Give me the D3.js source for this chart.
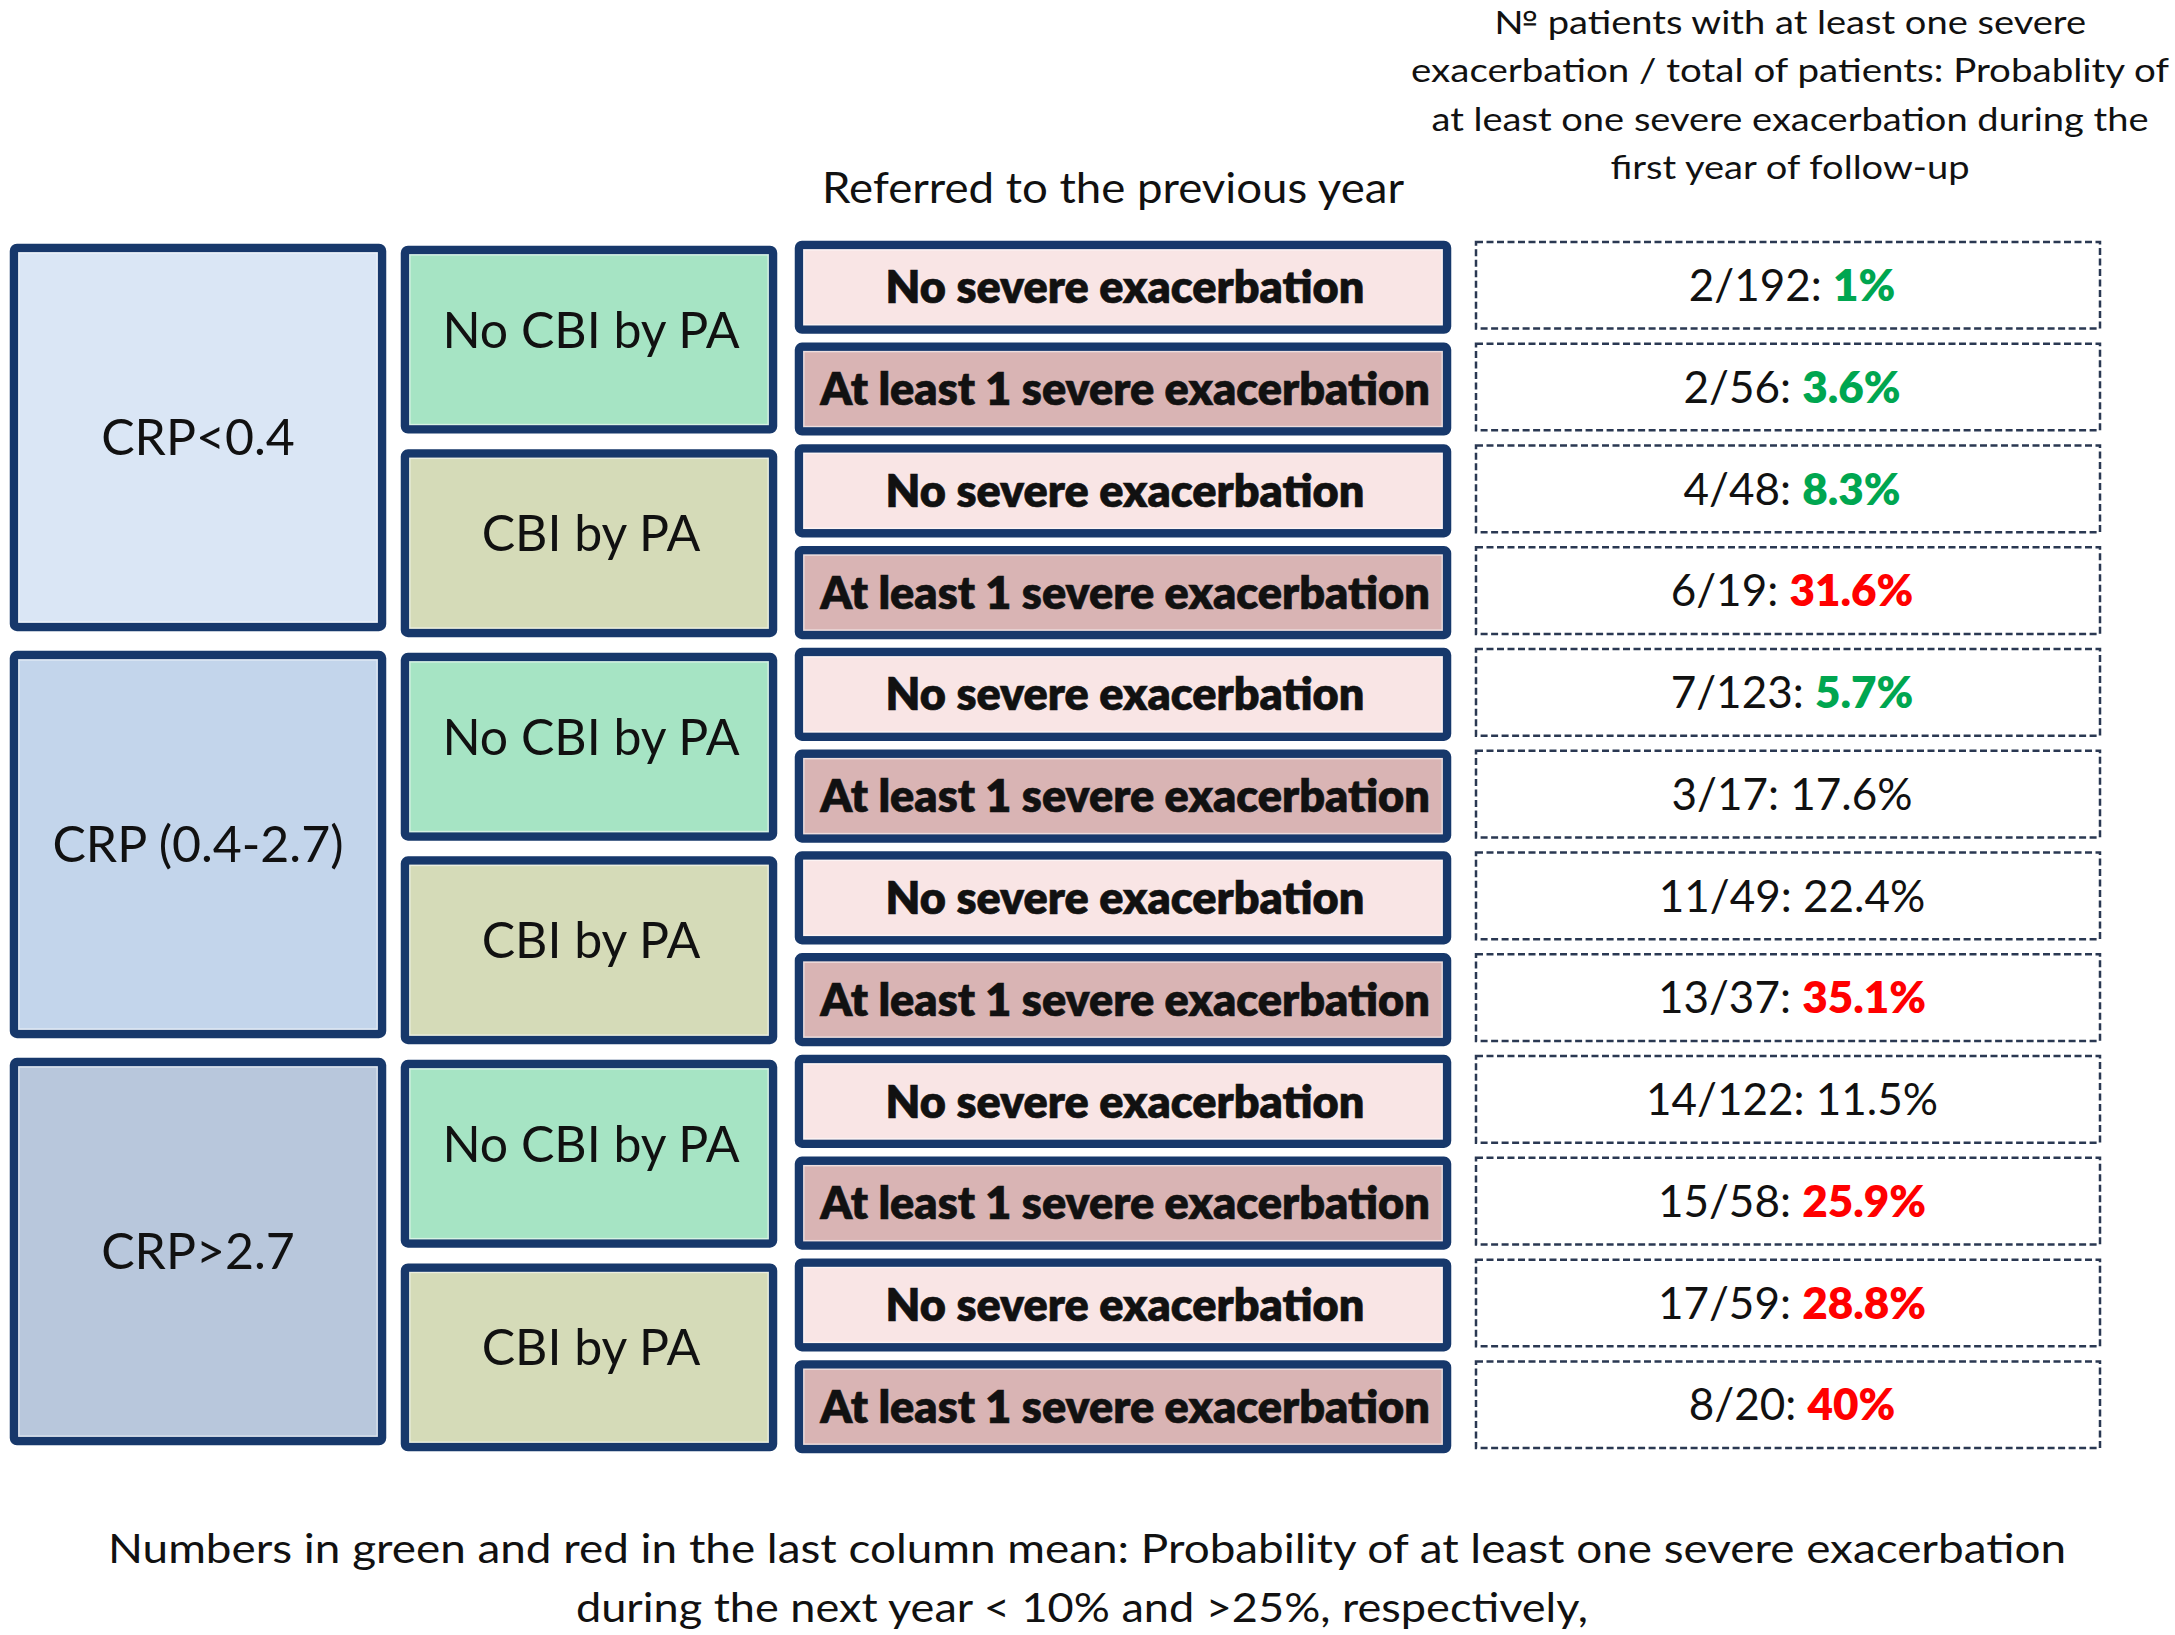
<!DOCTYPE html>
<html><head><meta charset="utf-8">
<script src="https://cdn.jsdelivr.net/npm/d3@7"></script>
<style>body{margin:0;background:#fff}svg{display:block}</style>
</head><body>
<svg id="c" width="2175" height="1635"></svg>
<script>
// ---------------- data ----------------
const crpLevels = ["CRP<0.4", "CRP (0.4-2.7)", "CRP>2.7"];
const cbiGroups = ["No CBI by PA", "CBI by PA", "No CBI by PA", "CBI by PA", "No CBI by PA", "CBI by PA"];
const prevYearGroups = [
  "No severe exacerbation", "At least 1 severe exacerbation",
  "No severe exacerbation", "At least 1 severe exacerbation",
  "No severe exacerbation", "At least 1 severe exacerbation",
  "No severe exacerbation", "At least 1 severe exacerbation",
  "No severe exacerbation", "At least 1 severe exacerbation",
  "No severe exacerbation", "At least 1 severe exacerbation"
];
const patientsWithEvent = [2, 2, 4, 6, 7, 3, 11, 13, 14, 15, 17, 8];
const patientsTotal = [192, 56, 48, 19, 123, 17, 49, 37, 122, 58, 59, 20];
const probLabels = ["1%", "3.6%", "8.3%", "31.6%", "5.7%", "17.6%", "22.4%", "35.1%", "11.5%", "25.9%", "28.8%", "40%"];
const columnTitle = "Referred to the previous year";
const headerLines = [
  "\u2116 patients with at least one severe",
  "exacerbation / total of patients: Probablity of",
  "at least one severe exacerbation during the",
  "first year of follow-up"
];
const footerLines = [
  "Numbers in green and red in the last column mean: Probability of at least one severe exacerbation",
  "during the next year < 10% and >25%, respectively,"
];

// ---------------- layout ----------------
const svg = d3.select("#c");
const FONT = "Lato, 'Open Sans', sans-serif";
const BORDER = "#17386b";
const nRows = prevYearGroups.length;

const y = d3.scaleBand().domain(d3.range(nRows)).range([241, 1453]).paddingInner(0.09);
const bw = y.bandwidth();
const colX = d3.scaleOrdinal().domain(["crp", "cbi", "prev", "prob"]).range([10, 401, 795, 1476]);
const colW = d3.scaleOrdinal().domain(["crp", "cbi", "prev", "prob"]).range([376, 376, 656, 624]);

const crpFill = d3.scaleOrdinal().domain(crpLevels).range(["#dae6f5", "#c3d5eb", "#b8c7dc"]);
const cbiFill = d3.scaleOrdinal().domain(["No CBI by PA", "CBI by PA"]).range(["#a6e4c4", "#d5dbb8"]);
const prevFill = d3.scaleOrdinal().domain(["No severe exacerbation", "At least 1 severe exacerbation"]).range(["#f9e5e5", "#d9b4b4"]);
const probColor = p => p < 10 ? "#00a650" : (p > 25 ? "#ff0000" : "#111");

function box(g, x, y0, w, h, fill) {
  g.append("rect").attr("x", x + 4).attr("y", y0 + 4).attr("width", w - 8).attr("height", h - 8)
    .attr("rx", 3).attr("fill", fill).attr("stroke", BORDER).attr("stroke-width", 8.5);
  g.append("rect").attr("x", x + 8.8).attr("y", y0 + 8.8).attr("width", w - 17.6).attr("height", h - 17.6)
    .attr("fill", "none").attr("stroke", "#ffffff").attr("stroke-opacity", 0.55).attr("stroke-width", 1.5);
}
function label(g, text, cx, baseline, size, weight) {
  return g.append("text").attr("x", cx).attr("y", baseline)
    .attr("text-anchor", "middle").attr("font-family", FONT).attr("font-size", size)
    .attr("font-weight", weight).attr("fill", "#111").text(text);
}
const CAP = 0.7165; // Lato cap-height ratio

// column 1: CRP levels (4 rows each)
const g1 = svg.append("g");
crpLevels.forEach((c, i) => {
  const top = y(i * 4) + 3, bot = y(i * 4 + 3) + bw - 8;
  box(g1, colX("crp"), top, colW("crp"), bot - top, crpFill(c));
  label(g1, c, colX("crp") + colW("crp") / 2, (top + bot) / 2 + 50 * CAP / 2, 50, 400);
});

// column 2: CBI by PA (2 rows each)
const g2 = svg.append("g");
cbiGroups.forEach((c, i) => {
  const top = y(i * 2) + 5, bot = y(i * 2 + 1) + bw - 2;
  box(g2, colX("cbi"), top, colW("cbi"), bot - top, cbiFill(c));
  label(g2, c, colX("cbi") + colW("cbi") / 2 + 2, (top + bot) / 2 - 10 + 50 * CAP / 2, 50, 400);
});

// column 3: previous year
const g3 = svg.append("g");
prevYearGroups.forEach((c, i) => {
  box(g3, colX("prev"), y(i), colW("prev"), bw, prevFill(c));
  label(g3, c, colX("prev") + colW("prev") / 2 + 2, y(i) + bw / 2 + 45 * CAP / 2, 45, 800)
    .attr("stroke", "#111").attr("stroke-width", 0.6);
});

// column 4: probabilities
const g4 = svg.append("g");
prevYearGroups.forEach((c, i) => {
  g4.append("rect").attr("x", colX("prob")).attr("y", y(i) + 1).attr("width", colW("prob")).attr("height", bw - 6)
    .attr("fill", "#fff").attr("stroke", "#2a3852").attr("stroke-width", 2.5).attr("stroke-dasharray", "7,3.5");
  const p = patientsWithEvent[i] / patientsTotal[i] * 100;
  const col = probColor(p);
  const t = g4.append("text")
    .attr("x", colX("prob") + colW("prob") / 2 + 4).attr("y", y(i) + (bw - 6) / 2 + 1 + 44 * CAP / 2)
    .attr("text-anchor", "middle").attr("font-family", FONT).attr("font-size", 44).attr("fill", "#111");
  t.append("tspan").text(`${patientsWithEvent[i]}/${patientsTotal[i]}: `);
  t.append("tspan").attr("fill", col).attr("font-weight", col === "#111" ? 400 : 800).text(probLabels[i]);
});

// titles
svg.append("text").attr("x", 1113).attr("y", 203).attr("text-anchor", "middle")
  .attr("font-family", FONT).attr("font-size", 42).attr("fill", "#111")
  .attr("textLength", 582).attr("lengthAdjust", "spacingAndGlyphs").text(columnTitle);

const headerWidths = [592, 758, 717, 359];
headerLines.forEach((l, i) => {
  svg.append("text").attr("x", 1790).attr("y", 34 + i * 48.3).attr("text-anchor", "middle")
    .attr("font-family", FONT).attr("font-size", 32).attr("fill", "#111")
    .attr("textLength", headerWidths[i]).attr("lengthAdjust", "spacingAndGlyphs").text(l);
});

const footerWidths = [1958, 1012];
const footerCx = [1087, 1082];
footerLines.forEach((l, i) => {
  svg.append("text").attr("x", footerCx[i]).attr("y", 1563 + i * 59).attr("text-anchor", "middle")
    .attr("font-family", FONT).attr("font-size", 41).attr("fill", "#111")
    .attr("textLength", footerWidths[i]).attr("lengthAdjust", "spacingAndGlyphs").text(l);
});
</script>
</body></html>
